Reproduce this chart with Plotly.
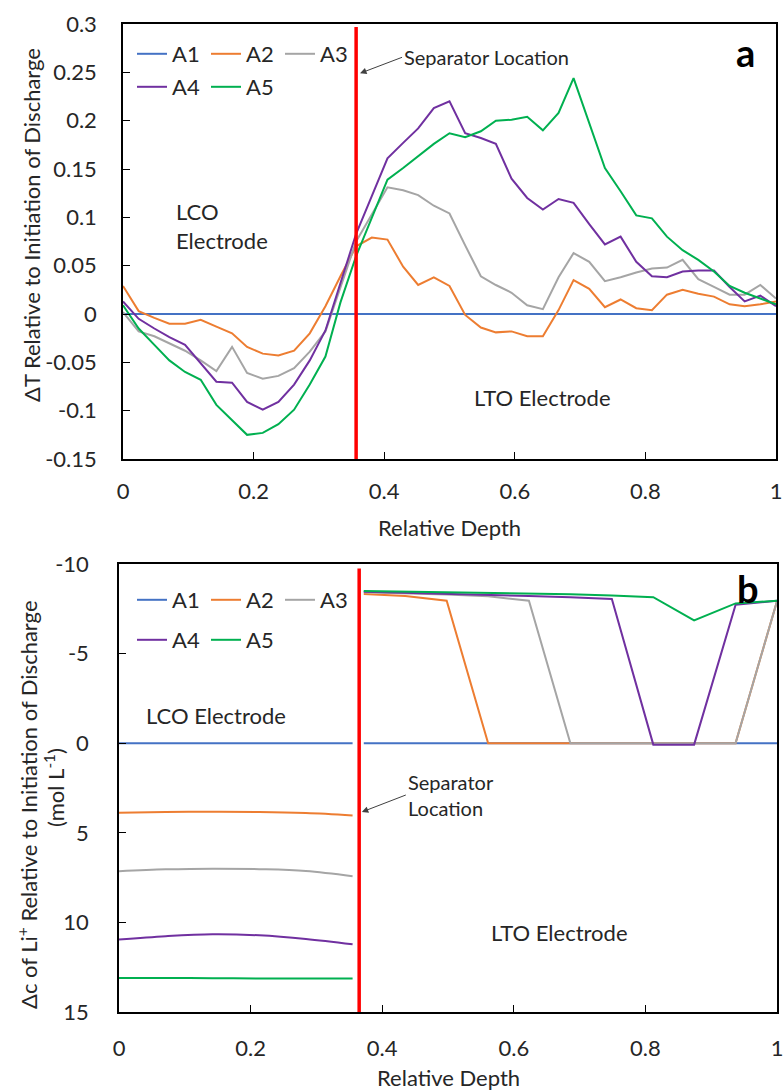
import plotly.graph_objects as go

# ---------------- Panel a: temperature change vs. relative depth ----------------
depth_a = [0.000, 0.024, 0.048, 0.071, 0.095, 0.119, 0.143, 0.167, 0.190, 0.214,
           0.238, 0.262, 0.286, 0.310, 0.333, 0.357, 0.381, 0.405, 0.429, 0.452,
           0.476, 0.500, 0.524, 0.548, 0.571, 0.595, 0.619, 0.643, 0.667, 0.690,
           0.714, 0.738, 0.762, 0.786, 0.810, 0.833, 0.857, 0.881, 0.905, 0.929,
           0.952, 0.976, 1.000]

dT_A1 = [0.0, 0.0, 0.0, 0.0, 0.0, 0.0, 0.0, 0.0, 0.0, 0.0,
         0.0, 0.0, 0.0, 0.0, 0.0, 0.0, 0.0, 0.0, 0.0, 0.0,
         0.0, 0.0, 0.0, 0.0, 0.0, 0.0, 0.0, 0.0, 0.0, 0.0,
         0.0, 0.0, 0.0, 0.0, 0.0, 0.0, 0.0, 0.0, 0.0, 0.0,
         0.0, 0.0, 0.0]
dT_A2 = [0.029, 0.003, -0.004, -0.010, -0.010, -0.006, -0.013, -0.020, -0.034, -0.041,
         -0.043, -0.038, -0.020, 0.008, 0.039, 0.070, 0.079, 0.077, 0.049, 0.030,
         0.038, 0.029, -0.001, -0.014, -0.019, -0.018, -0.023, -0.023, 0.004, 0.035,
         0.026, 0.007, 0.015, 0.006, 0.004, 0.020, 0.025, 0.021, 0.018, 0.010,
         0.008, 0.010, 0.013]
dT_A3 = [0.002, -0.018, -0.023, -0.030, -0.038, -0.048, -0.059, -0.034, -0.061, -0.067,
         -0.064, -0.056, -0.039, -0.018, 0.028, 0.075, 0.103, 0.131, 0.128, 0.123,
         0.112, 0.104, 0.071, 0.039, 0.030, 0.022, 0.009, 0.005, 0.038, 0.063,
         0.054, 0.034, 0.038, 0.043, 0.047, 0.048, 0.056, 0.036, 0.028, 0.020,
         0.020, 0.030, 0.016]
dT_A4 = [0.013, -0.005, -0.015, -0.024, -0.032, -0.051, -0.070, -0.071, -0.091, -0.099,
         -0.091, -0.073, -0.048, -0.017, 0.032, 0.083, 0.122, 0.161, 0.177, 0.192,
         0.213, 0.220, 0.187, 0.182, 0.176, 0.140, 0.120, 0.108, 0.119, 0.115,
         0.093, 0.072, 0.080, 0.054, 0.039, 0.038, 0.044, 0.045, 0.045, 0.028,
         0.013, 0.019, 0.008]
dT_A5 = [0.009, -0.015, -0.032, -0.048, -0.060, -0.068, -0.094, -0.110, -0.125, -0.123,
         -0.114, -0.099, -0.073, -0.044, 0.012, 0.060, 0.100, 0.139, 0.151, 0.163,
         0.176, 0.187, 0.183, 0.189, 0.200, 0.201, 0.204, 0.190, 0.208, 0.244,
         0.197, 0.151, 0.127, 0.102, 0.099, 0.080, 0.066, 0.056, 0.044, 0.029,
         0.022, 0.016, 0.010]

separator_a = 0.357

# ---------------- Panel b: Li+ concentration change vs. relative depth ----------------
depth_b_lco = [0.000, 0.071, 0.142, 0.213, 0.284, 0.355]
depth_b_lto = [0.372, 0.435, 0.498, 0.561, 0.623, 0.686, 0.749, 0.812, 0.874, 0.937, 1.000]

dc_lco_A1 = [0.0, 0.0, 0.0, 0.0, 0.0, 0.0]
dc_lco_A2 = [3.88, 3.84, 3.83, 3.84, 3.90, 4.03]
dc_lco_A3 = [7.14, 7.04, 7.00, 7.03, 7.13, 7.42]
dc_lco_A4 = [10.96, 10.77, 10.66, 10.72, 10.92, 11.22]
dc_lco_A5 = [13.10, 13.10, 13.11, 13.13, 13.13, 13.13]

dc_lto_A1 = [0.0, 0.0, 0.0, 0.0, 0.0, 0.0, 0.0, 0.0, 0.0, 0.0, 0.0]
dc_lto_A2 = [-8.33, -8.21, -7.95, 0.0, 0.0, 0.0, 0.0, 0.0, 0.0, 0.0, -7.92]
dc_lto_A3 = [-8.42, -8.37, -8.30, -8.20, -7.95, 0.0, 0.0, 0.0, 0.0, 0.0, -7.92]
dc_lto_A4 = [-8.45, -8.40, -8.35, -8.29, -8.22, -8.15, -8.05, 0.08, 0.08, -7.72, -7.95]
dc_lto_A5 = [-8.50, -8.47, -8.43, -8.40, -8.36, -8.31, -8.24, -8.15, -6.85, -7.80, -7.95]

separator_b = 0.365

# ---------------- Axis ticks ----------------
x_tickvals = [0, 0.2, 0.4, 0.6, 0.8, 1]
x_ticktext = ["0", "0.2", "0.4", "0.6", "0.8", "1"]
ya_tickvals = [-0.15, -0.1, -0.05, 0, 0.05, 0.1, 0.15, 0.2, 0.25, 0.3]
ya_ticktext = ["-0.15", "-0.1", "-0.05", "0", "0.05", "0.1", "0.15", "0.2", "0.25", "0.3"]
yb_tickvals = [-10, -5, 0, 5, 10, 15]
yb_ticktext = ["-10", "-5", "0", "5", "10", "15"]

names = ["A1", "A2", "A3", "A4", "A5"]
colors = ["#4472C4", "#ED7D31", "#A5A5A5", "#7030A0", "#00B050"]

FONT = "Lato"
TEXT = "#262626"
W, H = 783, 1090

fig = go.Figure()

# panel a lines
for name, color, vals in zip(names, colors, [dT_A1, dT_A2, dT_A3, dT_A4, dT_A5]):
    fig.add_trace(go.Scatter(
        x=depth_a, y=vals, mode="lines", name=name,
        line=dict(color=color, width=2),
        xaxis="x", yaxis="y",
        legend="legend" if name in ("A1", "A2", "A3") else "legend2",
    ))

# panel b lines: smooth LCO segment + straight LTO segment per series
lco = [dc_lco_A1, dc_lco_A2, dc_lco_A3, dc_lco_A4, dc_lco_A5]
lto = [dc_lto_A1, dc_lto_A2, dc_lto_A3, dc_lto_A4, dc_lto_A5]
for name, color, lv, rv in zip(names, colors, lco, lto):
    lg = "legend3" if name in ("A1", "A2", "A3") else "legend4"
    fig.add_trace(go.Scatter(
        x=depth_b_lco, y=lv, mode="lines", name=name, legendgroup="b" + name,
        line=dict(color=color, width=2, shape="spline", smoothing=1.0),
        xaxis="x2", yaxis="y2", legend=lg, showlegend=False,
    ))
    fig.add_trace(go.Scatter(
        x=depth_b_lto, y=rv, mode="lines", name=name, legendgroup="b" + name,
        line=dict(color=color, width=2),
        xaxis="x2", yaxis="y2", legend=lg,
    ))

# separator markers
fig.add_shape(type="line", xref="x", yref="y domain", x0=separator_a, x1=separator_a,
              y0=0, y1=0.993, line=dict(color="#FF0000", width=3.5), layer="above")
fig.add_shape(type="line", xref="x2", yref="y2 domain", x0=separator_b, x1=separator_b,
              y0=0, y1=0.99, line=dict(color="#FF0000", width=3.5), layer="above")

axis_common = dict(
    showline=True, mirror=True, linecolor="black", linewidth=1.5,
    showgrid=False, zeroline=False, ticks="inside", ticklen=7,
    tickcolor="black", tickwidth=1, automargin=False, ticklabeloverflow="allow",
    tickfont=dict(family=FONT, size=22, color=TEXT),
)

legend_common = dict(
    orientation="h", bgcolor="rgba(0,0,0,0)", borderwidth=0,
    font=dict(family=FONT, size=22, color=TEXT),
    xanchor="left", yanchor="middle", entrywidth=29, entrywidthmode="pixels",
    itemwidth=30, tracegroupgap=0,
)

fig.update_layout(
    width=W, height=H,
    margin=dict(l=0, r=0, t=0, b=0, pad=0),
    paper_bgcolor="white", plot_bgcolor="white",
    font=dict(family=FONT, size=22, color=TEXT),
    xaxis=dict(axis_common, domain=[123 / W, 776 / W], anchor="y", range=[0, 1],
               tickvals=x_tickvals, ticktext=x_ticktext, ticklabelstandoff=12),
    yaxis=dict(axis_common, domain=[631 / H, 1066 / H], anchor="x", range=[-0.15, 0.3],
               tickvals=ya_tickvals, ticktext=ya_ticktext, ticklabelstandoff=20),
    xaxis2=dict(axis_common, domain=[119 / W, 777 / W], anchor="y2", range=[0, 1],
                tickvals=x_tickvals, ticktext=x_ticktext, ticklabelstandoff=16),
    yaxis2=dict(axis_common, domain=[78 / H, 526 / H], anchor="x2", range=[15, -10],
                tickvals=yb_tickvals, ticktext=yb_ticktext, ticklabelstandoff=24),
    legend=dict(legend_common, x=132 / W, y=1 - 54 / H),
    legend2=dict(legend_common, x=132 / W, y=1 - 87 / H),
    legend3=dict(legend_common, x=132 / W, y=1 - 600 / H),
    legend4=dict(legend_common, x=132 / W, y=1 - 640 / H),
    showlegend=True,
)

def note(text, x, y, xref, yref, size=22, **kw):
    fig.add_annotation(text=text, x=x, y=y, xref=xref, yref=yref, showarrow=False,
                       font=dict(family=FONT, size=size, color=kw.pop("color", TEXT)), **kw)

# axis titles
note("Relative Depth", 0.5, 1 - 527 / H, "x domain", "paper", yanchor="middle")
note("Relative Depth", 0.5, 1 - 1077 / H, "x2 domain", "paper", yanchor="middle")
note("ΔT Relative to Initiation of Discharge", 32 / W, 1 - 225 / H, "paper", "paper",
     textangle=-90, xanchor="center", yanchor="middle")
note("Δc of Li<sup>+</sup> Relative to Initiation of Discharge",
     27 / W, 1 - 805 / H, "paper", "paper", textangle=-90, xanchor="center",
     yanchor="middle")
note("(mol L<sup>-1</sup>)", 54 / W, 1 - 788 / H, "paper", "paper", textangle=-90,
     xanchor="center", yanchor="middle")

# region labels
note("LCO<br>Electrode", 0.078, 0.091, "x", "y", xanchor="left", yanchor="middle", align="left")
note("LTO Electrode", 0.642, -0.086, "x", "y", xanchor="center", yanchor="middle")
note("LCO Electrode", 0.147, -1.52, "x2", "y2", xanchor="center", yanchor="middle")
note("LTO Electrode", 0.670, 10.54, "x2", "y2", xanchor="center", yanchor="middle")

# panel letters
note("<b>a</b>", 0.954, 0.271, "x", "y", size=38, xanchor="center", yanchor="middle",
     color="black")
note("<b>b</b>", 0.956, -8.66, "x2", "y2", size=38, xanchor="center", yanchor="middle",
     color="black")

# separator callouts: arrow head on the red line, tail at the label's left edge
fig.add_annotation(text="Separator Location", x=0.363, y=0.249, xref="x", yref="y",
                   ax=42, ay=-16, xanchor="left", yanchor="middle",
                   showarrow=True, arrowhead=2, arrowsize=1.3, arrowwidth=1,
                   arrowcolor="#404040", standoff=0,
                   font=dict(family=FONT, size=20, color=TEXT))
fig.add_annotation(text="Separator<br>Location", x=0.369, y=3.84, xref="x2", yref="y2",
                   ax=44, ay=-17, xanchor="left", yanchor="middle", align="left",
                   showarrow=True, arrowhead=2, arrowsize=1.3, arrowwidth=1,
                   arrowcolor="#404040", standoff=0,
                   font=dict(family=FONT, size=20, color=TEXT))

fig.write_html("out.html")
